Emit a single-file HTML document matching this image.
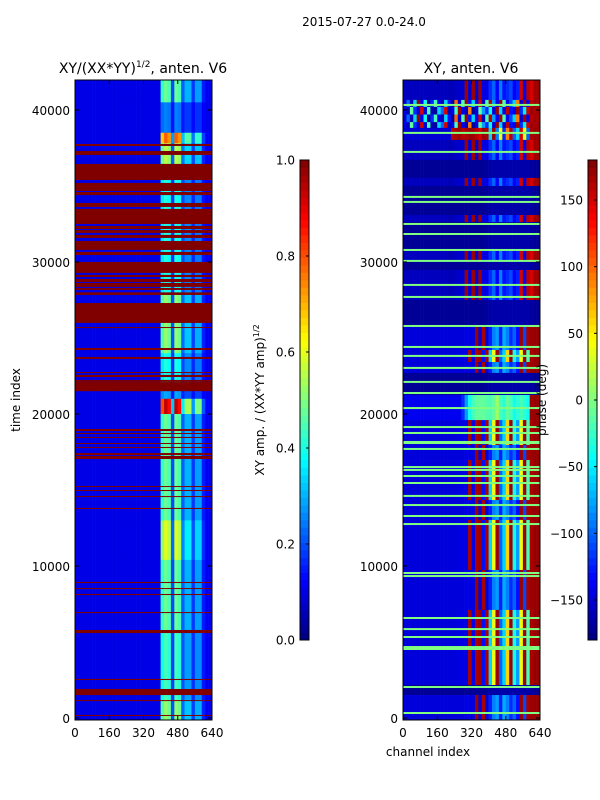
<!DOCTYPE html>
<html><head><meta charset="utf-8"><style>
body{margin:0;background:#fff;}
svg{display:block;font-family:"DejaVu Sans","Liberation Sans",sans-serif;}
</style></head><body>
<svg id="fig" width="600" height="800" viewBox="0 0 600 800">
<rect width="600" height="800" fill="#fff"/>
<text x="364" y="26" font-size="12" text-anchor="middle">2015-07-27 0.0-24.0</text>
<text x="143" y="73" font-size="14" text-anchor="middle">XY/(XX*YY)<tspan font-size="9" dy="-6">1/2</tspan><tspan dy="6">, anten. V6</tspan></text>
<text x="471" y="73" font-size="14" text-anchor="middle">XY, anten. V6</text>
<g id="left"></g>
<g id="right"></g>
<g id="cb1"></g>
<g id="cb2"></g>
<g id="axes"></g>
<text transform="translate(20,400) rotate(-90)" font-size="12" text-anchor="middle">time index</text>
<text x="428" y="756" font-size="12" text-anchor="middle">channel index</text>
<text transform="translate(264,400) rotate(-90)" font-size="12" text-anchor="middle">XY amp. / (XX*YY amp)<tspan font-size="8" dy="-5">1/2</tspan></text>
<text transform="translate(546,400) rotate(-90)" font-size="12" text-anchor="middle">phase (deg)</text>
</svg>
<script>
// ---------- data ----------
const timeTicks = [0, 10000, 20000, 30000, 40000];
const chanTicks = [0, 160, 320, 480, 640];
const ampTicks = [0.0, 0.2, 0.4, 0.6, 0.8, 1.0];
const phaseTicks = [-150, -100, -50, 0, 50, 100, 150];
// left: column gain per 16-channel bin (40 bins)
const leftColGain = [0,0,0,0,0,0,0,0,0,0,0,0,0,0,0,0,0,0,0,0,0,0,0,0,0,0.32,0.38,0.35,0.1,0.38,0.35,0.12,0.2,0.2,0.08,0.18,0.18,0.05,0.01,0.01];
// left: activity segments [t0, t1, activity]
const leftSegStart = [40500, 38500, 37800, 36450, 28000, 25600, 24000, 22000, 21000, 20000, 18300, 13000, 10400, 5800, 1200, -130];
const leftSegEnd   = [41970, 40500, 38500, 37800, 36450, 28000, 25600, 24000, 22000, 21000, 20000, 18300, 13000, 10400, 5800, 1200];
const leftSegAct   = [1.0, 0.4, 1.8, 1.2, 0.8, 1.1, 1.1, 0.8, 0.5, 2.2, 1.0, 1.0, 1.3, 1.0, 0.9, 1.1];
// left: saturated (value 1) flagged bands [t0, t1]
const leftRedStart = [37630,37040,35390,34670,34400,33620,32500,32170,31910,31580,30790,30460,29280,29010,28680,28360,28160,27830,25990,25660,24210,23620,22700,22430,22110,21500,18880,18680,18420,18030,17760,17300,17040,15200,14940,14540,13750,8880,8490,8090,6910,5590,2500,1510,1120,140];
const leftRedEnd   = [37760,37300,36450,35200,34600,33880,33490,32370,32100,31780,31380,30660,30000,29150,28880,28620,28290,28000,27300,25720,24340,23750,22760,22570,22240,22100,19010,18750,18490,18090,17830,17430,17240,15260,15000,14600,13820,8950,8550,8160,6970,5790,2570,1910,1180,200];
// right: phase profiles (deg) per 16-channel bin
const profQuietDark = [-172,-172,-172,-172,-172,-172,-172,-172,-172,-172,-172,-172,-172,-172,-172,-172,-172,-172,-172,-172,-172,-172,-172,-172,-170,-165,-165,-165,-165,-165,-165,-165,-165,-165,-165,-165,-165,-168,-172,-172];
const profUpperActive = [-158,-158,-158,-158,-158,-158,-158,-158,-158,-158,-158,-158,-158,-160,-160,-155,-155,-150,170,-150,170,-150,170,-145,-145,-120,-100,-135,-90,-130,-120,-110,-135,-125,150,-140,160,150,168,170];
const profLowerQuiet = [-148,-148,-148,-148,-148,-148,-148,-148,-148,-148,-148,-148,-148,-148,-148,-148,-148,-148,-145,-145,-145,170,-145,165,-150,-125,-90,-80,-125,-75,-90,-120,-100,-130,170,-110,165,170,172,172];
const profLowerActive = [-148,-148,-148,-148,-148,-148,-148,-148,-148,-148,-148,-148,-148,-148,-148,-148,-145,-145,-145,165,-140,165,170,-130,165,-60,40,170,-100,-60,60,170,-40,-80,40,170,-20,165,172,172];
const profPlateau = [-140,-140,-140,-140,-140,-140,-140,-140,-140,-140,-140,-140,-140,-140,-140,-140,-140,-120,-80,-40,-20,-10,-10,-10,-15,-20,-10,10,-20,-30,-10,-20,-40,-30,-20,-30,-40,170,172,172];
const profUpperBright = [-150,-150,-150,-150,-150,-150,-150,-150,-150,-150,-150,-150,-150,-150,160,165,170,160,165,170,168,160,150,170,165,-60,170,-90,40,-120,90,160,-100,-60,150,40,-100,165,170,170];
const profNoisyA = [-150,-100,-160,-60,170,-140,-40,-170,-120,-20,-140,-160,-60,-130,-170,100,-150,-20,170,-130,-60,-140,150,-160,-20,160,-80,-140,170,-20,-140,-110,-60,90,-150,170,-140,160,170,165];
const profNoisyB = [-140,-160,-10,-120,-150,150,-150,-20,-160,-170,-60,-100,150,-160,-140,-20,170,-140,-160,90,-170,-140,-10,-80,-120,-40,-150,170,-60,-150,160,-130,-140,170,-120,-50,150,170,165,170];
const rightProfiles = [profQuietDark, profUpperActive, profLowerQuiet, profLowerActive, profPlateau, profUpperBright, profNoisyA, profNoisyB];
// right: segments [t0, t1, profileIndex]
const rightSegStart = [40660,40200,39700,39200,38820,38030,36710,35530,35000,33090,32630,30790,30000,29470,27500,25850,24210,23420,22700,21250,19600,17960,16970,14340,13030,9740,7110,2170,1510,-130];
const rightSegEnd   = [41970,40660,40200,39700,39200,38820,38030,36710,35530,35000,33090,32630,30790,30000,29470,27500,25850,24210,23420,22700,21250,19600,17960,16970,14340,13030,9740,7110,2170,1510];
const rightSegProf  = [1,6,7,6,7,5,1,0,1,0,1,0,1,0,1,0,2,3,2,0,4,3,2,3,2,3,2,3,0,2];
// right: green (phase ~0) lines, time index
const rightGreenLines = [40330,38490,37240,34280,33950,32500,31840,30790,30070,28490,27700,25790,24410,23820,23030,22110,21380,20390,19140,18750,18160,18090,17700,16510,16320,15920,15460,14610,14010,13290,12760,9540,9340,6580,5850,5330,4670,4540,2040,330];

// ---------- helpers ----------
const NS = "http://www.w3.org/2000/svg";
function jet(v){
  v = Math.max(0, Math.min(1, v));
  const r = Math.max(0, Math.min(1, 1.5 - Math.abs(4*v - 3)));
  const g = Math.max(0, Math.min(1, 1.5 - Math.abs(4*v - 2)));
  const b = Math.max(0, Math.min(1, 1.5 - Math.abs(4*v - 1)));
  return `rgb(${Math.round(r*255)},${Math.round(g*255)},${Math.round(b*255)})`;
}
const T0 = -130, T1 = 41970, Y_TOP = 80, Y_BOT = 720;
function yT(t){ return Y_BOT - (t - T0) / (T1 - T0) * (Y_BOT - Y_TOP); }
function xC(c, x0){ return x0 + c / 640 * 137; }
function rect(g, x, y, w, h, fill, name){
  const r = document.createElementNS(NS, "rect");
  r.setAttribute("x", x); r.setAttribute("y", y);
  r.setAttribute("width", w); r.setAttribute("height", h);
  r.setAttribute("fill", fill);
  
  
  g.appendChild(r); return r;
}
function txt(g, x, y, s, anchor, name){
  const t = document.createElementNS(NS, "text");
  t.setAttribute("x", x); t.setAttribute("y", y);
  t.setAttribute("font-size", "12");
  t.setAttribute("text-anchor", anchor);
  t.textContent = s;
  
  
  g.appendChild(t); return t;
}
function line(g, x1, y1, x2, y2, name, w){
  const l = document.createElementNS(NS, "line");
  l.setAttribute("x1", x1); l.setAttribute("y1", y1);
  l.setAttribute("x2", x2); l.setAttribute("y2", y2);
  l.setAttribute("stroke", "#000"); l.setAttribute("stroke-width", w || 1);
  
  
  g.appendChild(l); return l;
}
const phaseV = p => (p + 180) / 360;

// ---------- left heatmap ----------
const gl = document.getElementById("left");
const LX = 75;
for (let s = 0; s < leftSegStart.length; s++){
  const y0 = yT(leftSegEnd[s]), y1 = yT(leftSegStart[s]);
  for (let b = 0; b < leftColGain.length; b++){
    const v = 0.1 + leftSegAct[s] * leftColGain[b];
    rect(gl, xC(b*16, LX), y0, xC(16, 0) + 0.3, y1 - y0 + 0.3, jet(v), "left-cell");
  }
}
for (let i = 0; i < leftRedStart.length; i++){
  const y0 = yT(leftRedEnd[i]), y1 = yT(leftRedStart[i]);
  rect(gl, LX, y0, 137, Math.max(1, y1 - y0), jet(1), "left-flag-band");
}

// ---------- right heatmap ----------
const gr = document.getElementById("right");
const RX = 403;
for (let s = 0; s < rightSegStart.length; s++){
  const y0 = yT(rightSegEnd[s]), y1 = yT(rightSegStart[s]);
  const prof = rightProfiles[rightSegProf[s]];
  for (let b = 0; b < prof.length; b++){
    rect(gr, xC(b*16, RX), y0, xC(16, 0) + 0.3, y1 - y0 + 0.3, jet(phaseV(prof[b])), "right-cell");
  }
}
for (let i = 0; i < rightGreenLines.length; i++){
  rect(gr, RX, yT(rightGreenLines[i]) - 1, 137, 2, jet(phaseV(0)), "right-green-line");
}

// ---------- colorbars ----------
function colorbar(id, x, lo, hi, ticks, fmt, nm){
  const g = document.getElementById(id);
  const yb = 640, yt = 160, n = 64;
  for (let i = 0; i < n; i++){
    rect(g, x, yb - (i+1)*(yb-yt)/n, 9, (yb-yt)/n + 0.4, jet((i+0.5)/n), nm + "-swatch");
  }
  const fr = rect(g, x, yt, 9, yb-yt, "none", nm + "-frame");
  fr.setAttribute("stroke", "#000");
  for (const t of ticks){
    const y = yb - (t - lo) / (hi - lo) * (yb - yt);
    line(g, x + 6, y, x + 9, y, nm + "-tick");
    txt(g, x - 5, y + 4.5, fmt(t), "end", nm + "-tick-label");
  }
}
colorbar("cb1", 300, 0, 1, ampTicks, t => t.toFixed(1), "amp-colorbar");
colorbar("cb2", 588, -180, 180, phaseTicks, t => (t < 0 ? "\u2212" + (-t) : "" + t), "phase-colorbar");

// ---------- axes ----------
const ga = document.getElementById("axes");
for (const [x0, nm] of [[LX, "left"], [RX, "right"]]){
  const fr = rect(ga, x0, Y_TOP, 137, Y_BOT - Y_TOP, "none", nm + "-axes-frame");
  fr.setAttribute("stroke", "#000");
  for (const t of timeTicks){
    const y = yT(t);
    line(ga, x0, y, x0 + 4, y, nm + "-y-tick");
    line(ga, x0 + 137, y, x0 + 133, y, nm + "-y-tick");
    txt(ga, x0 - 5, y + 5, String(t), "end", nm + "-y-tick-label");
  }
  for (const c of chanTicks){
    const x = xC(c, x0);
    line(ga, x, Y_BOT, x, Y_BOT - 4, nm + "-x-tick");
    line(ga, x, Y_TOP, x, Y_TOP + 4, nm + "-x-tick");
    txt(ga, x, 737, String(c), "middle", nm + "-x-tick-label");
  }
}
</script>
</body></html>
